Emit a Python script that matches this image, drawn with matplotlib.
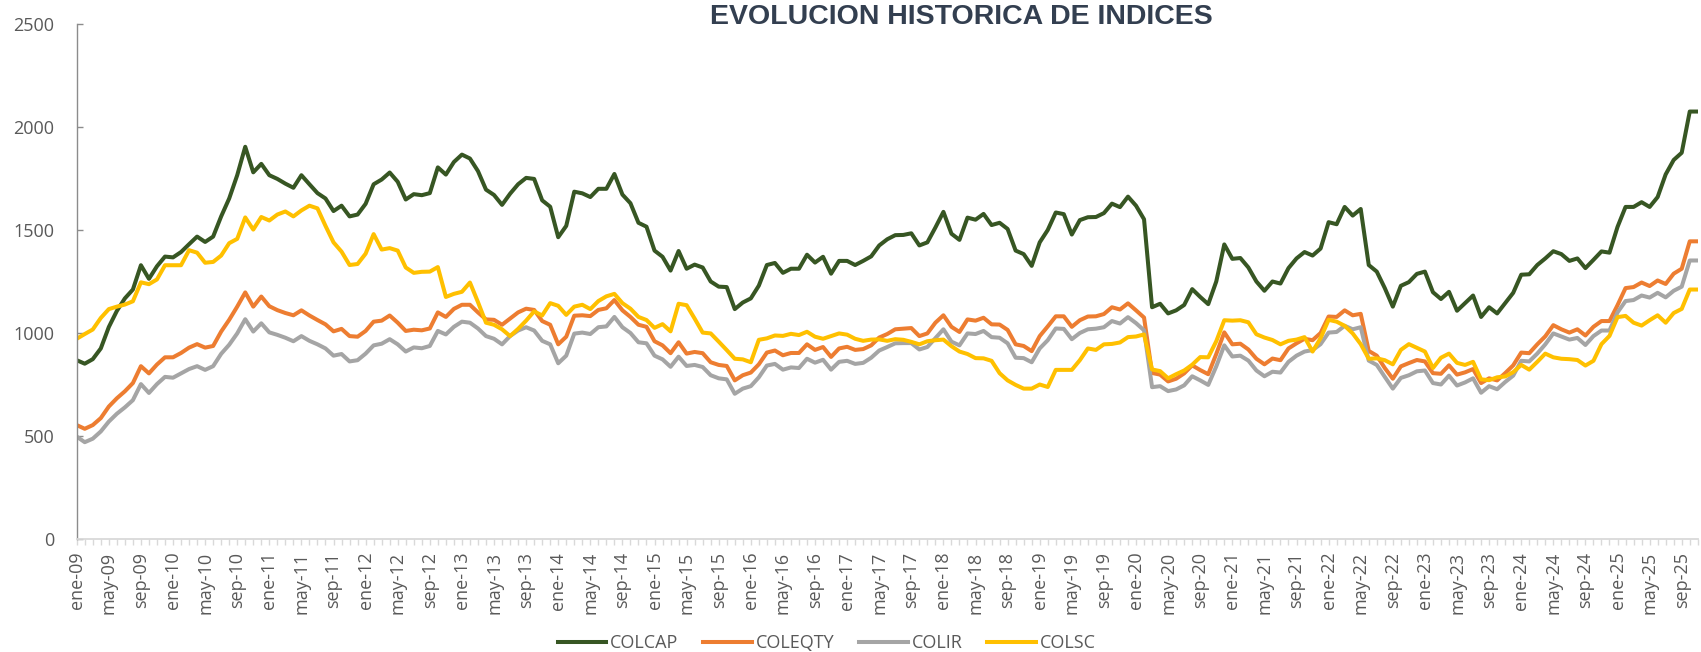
import matplotlib
matplotlib.use('Agg')
import matplotlib.pyplot as plt

plt.rcParams['font.family'] = ['Open Sans', 'DejaVu Sans']

# monthly closes, ene-09 .. nov-25
colcap = [
    868, 851, 873, 925, 1029, 1107, 1168, 1211, 1329, 1263, 1324, 1371,
    1367, 1393, 1431, 1468, 1442, 1468, 1566, 1653, 1766, 1904, 1780, 1821,
    1766, 1748, 1725, 1705, 1766, 1722, 1679, 1653, 1592, 1618, 1566, 1575,
    1627, 1722, 1745, 1779, 1734, 1648, 1674, 1669, 1679, 1804, 1769, 1830,
    1866, 1847, 1786, 1696, 1670, 1622, 1676, 1722, 1753, 1748, 1644, 1613,
    1465, 1520, 1686, 1678, 1660, 1700, 1700, 1772, 1672, 1630, 1535, 1516,
    1400, 1370, 1303, 1398, 1312, 1332, 1318, 1250, 1225, 1223, 1116, 1148,
    1168, 1230, 1330, 1340, 1292, 1312, 1312, 1380, 1342, 1370, 1288, 1350,
    1350, 1330, 1350, 1372, 1425, 1455, 1475, 1476, 1484, 1425, 1440, 1512,
    1588, 1482, 1452, 1560, 1550, 1578, 1524, 1535, 1505, 1400, 1383, 1326,
    1440, 1500, 1585, 1577, 1478, 1548, 1562, 1563, 1582, 1628, 1611, 1662,
    1618, 1552, 1125, 1142, 1095, 1110, 1136, 1213, 1175, 1140, 1250, 1430,
    1360, 1364, 1318, 1250, 1205, 1250, 1240, 1315, 1362, 1393, 1376, 1410,
    1538, 1528, 1612, 1570, 1602, 1330, 1298, 1218, 1128, 1229, 1247, 1287,
    1298, 1198, 1165, 1200, 1108, 1145, 1182, 1078, 1125, 1095, 1145, 1195,
    1283, 1285, 1330, 1362, 1397, 1383, 1350, 1362, 1315, 1355, 1396, 1390,
    1515, 1612, 1612, 1635, 1612, 1660, 1770, 1840, 1875, 2075, 2075,
]
coleqty = [
    553, 535, 553, 587, 643, 683, 717, 757, 839, 804, 847, 882,
    882, 903, 929, 946, 929, 937, 1007, 1064, 1128, 1197, 1128, 1177,
    1130, 1111, 1097, 1086, 1110, 1085, 1063, 1042, 1008, 1020, 985, 982,
    1010, 1055, 1060, 1085, 1050, 1010, 1016, 1013, 1022, 1100, 1078, 1117,
    1137, 1137, 1100, 1066, 1064, 1040, 1070, 1100, 1118, 1112, 1058, 1040,
    945, 982, 1084, 1086, 1082, 1112, 1120, 1160, 1110, 1078, 1040, 1030,
    960, 940, 902, 955, 900, 908, 902, 858, 845, 840, 770, 795,
    808, 848, 905, 915, 892, 903, 903, 945, 918, 932, 884, 925,
    933, 918, 922, 940, 978, 995, 1018, 1021, 1024, 985, 998, 1050,
    1086, 1030, 1005, 1066, 1060, 1074, 1042, 1041, 1015, 945, 937, 912,
    985, 1032, 1081, 1081, 1030, 1062, 1080, 1081, 1092, 1125, 1114, 1144,
    1110, 1075, 806, 798, 765, 778, 804, 843, 820, 800, 898, 1003,
    945, 948, 920, 875, 848, 876, 868, 925, 950, 972, 965, 1000,
    1080, 1078, 1110, 1086, 1093, 913, 890, 830, 778, 838, 854, 869,
    862, 805, 802, 843, 798, 809, 825, 757, 780, 770, 805, 843,
    905, 902, 945, 984, 1038, 1018, 1002, 1018, 988, 1030, 1058, 1058,
    1135, 1218, 1223, 1245, 1228, 1255, 1238, 1288, 1312, 1445, 1445,
]
colir = [
    497, 470, 487, 522, 570, 608, 639, 674, 752, 709, 752, 787,
    783, 804, 825, 839, 821, 839, 899, 943, 998, 1067, 1007, 1047,
    1003, 991, 977, 960, 985, 962, 945, 925, 890, 898, 862, 868,
    900, 940, 948, 970, 945, 910, 930, 926, 937, 1010, 993, 1030,
    1055, 1050, 1022, 985, 972, 945, 985, 1012, 1028, 1012, 962, 945,
    853, 890, 997, 1002, 995, 1028, 1032, 1078, 1028, 1000, 955, 950,
    890, 872, 836, 885, 840, 845, 835, 795, 780, 775, 705, 730,
    742, 785, 842, 850, 822, 833, 830, 875, 856, 870, 822, 860,
    865, 850, 855, 880, 915, 932, 950, 951, 951, 920, 932, 975,
    1018, 958, 940, 998, 995, 1010, 980, 977, 950, 880, 878, 858,
    925, 965, 1022, 1020, 970, 1000, 1018, 1021, 1028, 1058, 1046, 1077,
    1048, 1013, 737, 742, 718, 726, 746, 790, 770, 748, 838, 940,
    886, 890, 866, 818, 790, 812, 808, 860, 890, 910, 917, 946,
    1002, 1005, 1035, 1018, 1028, 866, 845, 787, 730, 782, 795, 814,
    818, 757, 750, 793, 745, 760, 780, 710, 742, 727, 762, 793,
    865, 862, 900, 945, 998, 983, 968, 976, 942, 985, 1012, 1012,
    1100, 1155, 1160, 1182, 1172, 1195, 1173, 1205, 1225, 1352, 1352,
]
colsc = [
    972, 995, 1017, 1073, 1116, 1128, 1138, 1154, 1246, 1237, 1260, 1329,
    1329, 1329, 1402, 1390, 1341, 1345, 1376, 1436, 1457, 1561, 1502, 1563,
    1546, 1575, 1590, 1566, 1595, 1618, 1605, 1520, 1440, 1395, 1330, 1335,
    1385, 1480, 1405, 1412, 1400, 1318, 1292, 1297, 1298, 1320, 1175, 1190,
    1200, 1245, 1150, 1050, 1040, 1018, 985, 1020, 1060, 1105, 1085, 1145,
    1132, 1088, 1128, 1137, 1116, 1155, 1178, 1190, 1145, 1118, 1078, 1063,
    1025, 1043, 1008, 1142, 1135, 1070, 1002, 998, 958, 917, 875, 872,
    858, 967, 974, 988, 986, 996, 990, 1006, 982, 972, 985, 998,
    992, 972, 962, 968, 969, 962, 970, 967, 957, 945, 960, 965,
    968, 936, 910, 898, 878, 877, 865, 805, 770, 748, 730, 730,
    750, 738, 821, 821, 821, 868, 925, 918, 945, 947, 954, 980,
    983, 993, 823, 815, 780, 800, 818, 846, 883, 882, 960, 1062,
    1060, 1062, 1052, 994, 978, 966, 945, 962, 968, 980, 910, 975,
    1064, 1055, 1035, 998, 946, 875, 877, 868, 848, 918, 946, 928,
    910, 830, 880, 900, 855, 845, 860, 775, 771, 785, 789, 810,
    845, 822, 860, 900, 882, 875, 873, 869, 842, 865, 946, 986,
    1077, 1083, 1050, 1036, 1062, 1086, 1050, 1097, 1117, 1211, 1211,
]

series_names = ['COLCAP', 'COLEQTY', 'COLIR', 'COLSC']
series_colors = ['#375623', '#ED7D31', '#A5A5A5', '#FFC000']

month_abbr = ['ene', 'feb', 'mar', 'abr', 'may', 'jun',
              'jul', 'ago', 'sep', 'oct', 'nov', 'dic']
n = len(colcap)
month_labels = [f"{month_abbr[i % 12]}-{(9 + i // 12):02d}" for i in range(n)]

fig = plt.figure(figsize=(17.01, 6.52), dpi=100)
ax = fig.add_axes([0.0451, 0.1733, 0.9530, 0.7899])

x = list(range(n))
for vals, name, col in zip([colcap, coleqty, colir, colsc], series_names, series_colors):
    ax.plot(x, vals, color=col, lw=2.9, label=name, solid_joinstyle='round')

ax.set_xlim(0, n - 1)
ax.set_ylim(0, 2500)
ax.set_yticks(range(0, 2501, 500))

major = list(range(0, n, 4))
ax.set_xticks(major)
ax.set_xticklabels([month_labels[i] for i in major], rotation=90)
ax.set_xticks(x, minor=True)

for s in ['top', 'right']:
    ax.spines[s].set_visible(False)
ax.spines['left'].set_color('#8C8C8C')
ax.spines['left'].set_linewidth(1.0)
ax.spines['bottom'].set_color('#D9D9D9')
ax.spines['bottom'].set_linewidth(1.3)

ax.tick_params(axis='y', direction='in', length=4, width=1, color='#8C8C8C',
               labelsize=13, labelcolor='#595959', pad=16)
ax.tick_params(axis='x', which='both', direction='out', length=4.2, width=1,
               color='#D9D9D9', labelsize=13, labelcolor='#595959', pad=5)

fig.text(0.5653, 0.9632, 'EVOLUCION HISTORICA DE INDICES', ha='center', va='baseline',
         fontsize=20.5, fontweight='bold', color='#333F50', family='Liberation Sans')

leg = fig.legend(loc='center', bbox_to_anchor=(0.486, 0.0138), ncol=4, frameon=False,
                 fontsize=13, handlelength=2.7, handletextpad=0.2, columnspacing=1.38,
                 borderpad=0, borderaxespad=0)
for t in leg.get_texts():
    t.set_color('#595959')

fig.savefig('out.png', dpi=100)
